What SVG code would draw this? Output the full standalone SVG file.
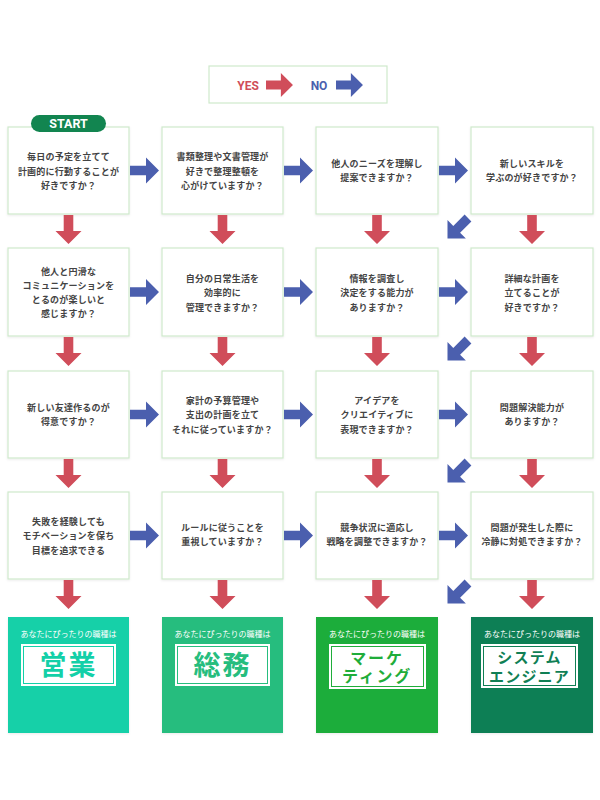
<svg xmlns="http://www.w3.org/2000/svg" xmlns:xlink="http://www.w3.org/1999/xlink" width="600" height="800" viewBox="0 0 600 800">
<defs>
<style>
.box{fill:#fff;stroke:#cfe9cc;stroke-width:1.2}
.q{font-family:"Noto Sans CJK JP","Noto Sans",sans-serif;font-size:9px;font-weight:bold;fill:#444;text-anchor:middle;letter-spacing:0.2px}
.yes{fill:#d04d5a}
.no{fill:#4b5fae}
.lbl{font-family:"Noto Sans CJK JP","Noto Sans",sans-serif;font-size:8px;fill:#fff;text-anchor:middle}
.inner{fill:#fff}
.job{font-family:"Noto Sans CJK JP","Noto Sans",sans-serif;font-weight:bold;text-anchor:middle}
</style>
<path id="arr" d="M0,-4.8 H16 V-13 L29,0 L16,13 V4.8 H0 Z"/>
<filter id="sh" x="-10%" y="-10%" width="120%" height="120%"><feDropShadow dx="0" dy="1" stdDeviation="1" flood-color="#000" flood-opacity="0.08"/></filter>
</defs>
<rect width="600" height="800" fill="#fff"/>

<g id="legend">
<rect x="209" y="66" width="178" height="37" class="box"/>
<text x="248" y="89.5" font-family="Roboto,'Noto Sans',sans-serif" font-weight="bold" font-size="12" text-anchor="middle" class="yes">YES</text>
<use xlink:href="#arr" class="yes" transform="translate(266,85) scale(0.93)"/>
<text x="319" y="89.5" font-family="Roboto,'Noto Sans',sans-serif" font-weight="bold" font-size="12" text-anchor="middle" class="no">NO</text>
<use xlink:href="#arr" class="no" transform="translate(336,85) scale(0.93)"/>
</g>

<g id="q1">
<rect x="8" y="127" width="121" height="87" class="box" filter="url(#sh)"/>
<text class="q"><tspan x="68.5" y="160">毎日の予定を立てて</tspan><tspan x="68.5" y="174.5">計画的に行動することが</tspan><tspan x="68.5" y="189">好きですか？</tspan></text>
</g>
<g id="start">
<rect x="31" y="115" width="75" height="17" rx="8.5" fill="#128550"/>
<text x="68.5" y="128" font-family="Roboto,'Noto Sans',sans-serif" font-weight="bold" font-size="12.5" fill="#fff" text-anchor="middle">START</text>
</g>
<g id="q2">
<rect x="162" y="127" width="121" height="87" class="box" filter="url(#sh)"/>
<text class="q"><tspan x="222.5" y="160">書類整理や文書管理が</tspan><tspan x="222.5" y="174.5">好きで整理整頓を</tspan><tspan x="222.5" y="189">心がけていますか？</tspan></text>
</g>
<g id="q3">
<rect x="316" y="127" width="122" height="87" class="box" filter="url(#sh)"/>
<text class="q"><tspan x="377" y="166.5">他人のニーズを理解し</tspan><tspan x="377" y="180.5">提案できますか？</tspan></text>
</g>
<g id="q4">
<rect x="471" y="127" width="122" height="87" class="box" filter="url(#sh)"/>
<text class="q"><tspan x="532" y="166.5">新しいスキルを</tspan><tspan x="532" y="180.5">学ぶのが好きですか？</tspan></text>
</g>

<g id="q5">
<rect x="8" y="248" width="121" height="88" class="box" filter="url(#sh)"/>
<text class="q"><tspan x="68.5" y="275">他人と円滑な</tspan><tspan x="68.5" y="289">コミュニケーションを</tspan><tspan x="68.5" y="303">とるのが楽しいと</tspan><tspan x="68.5" y="317">感じますか？</tspan></text>
</g>
<g id="q6">
<rect x="162" y="248" width="121" height="88" class="box" filter="url(#sh)"/>
<text class="q"><tspan x="222.5" y="281.5">自分の日常生活を</tspan><tspan x="222.5" y="296">効率的に</tspan><tspan x="222.5" y="310.5">管理できますか？</tspan></text>
</g>
<g id="q7">
<rect x="316" y="248" width="122" height="88" class="box" filter="url(#sh)"/>
<text class="q"><tspan x="377" y="281.5">情報を調査し</tspan><tspan x="377" y="296">決定をする能力が</tspan><tspan x="377" y="310.5">ありますか？</tspan></text>
</g>
<g id="q8">
<rect x="471" y="248" width="122" height="88" class="box" filter="url(#sh)"/>
<text class="q"><tspan x="532" y="281.5">詳細な計画を</tspan><tspan x="532" y="296">立てることが</tspan><tspan x="532" y="310.5">好きですか？</tspan></text>
</g>

<g id="q9">
<rect x="8" y="371" width="121" height="87" class="box" filter="url(#sh)"/>
<text class="q"><tspan x="68.5" y="410.5">新しい友達作るのが</tspan><tspan x="68.5" y="424.5">得意ですか？</tspan></text>
</g>
<g id="q10">
<rect x="162" y="371" width="121" height="87" class="box" filter="url(#sh)"/>
<text class="q"><tspan x="222.5" y="403.5">家計の予算管理や</tspan><tspan x="222.5" y="418">支出の計画を立て</tspan><tspan x="222.5" y="432.5">それに従っていますか？</tspan></text>
</g>
<g id="q11">
<rect x="316" y="371" width="122" height="87" class="box" filter="url(#sh)"/>
<text class="q"><tspan x="377" y="403.5">アイデアを</tspan><tspan x="377" y="418">クリエイティブに</tspan><tspan x="377" y="432.5">表現できますか？</tspan></text>
</g>
<g id="q12">
<rect x="471" y="371" width="122" height="87" class="box" filter="url(#sh)"/>
<text class="q"><tspan x="532" y="410.5">問題解決能力が</tspan><tspan x="532" y="424.5">ありますか？</tspan></text>
</g>

<g id="q13">
<rect x="8" y="492" width="121" height="87" class="box" filter="url(#sh)"/>
<text class="q"><tspan x="68.5" y="524.5">失敗を経験しても</tspan><tspan x="68.5" y="539">モチベーションを保ち</tspan><tspan x="68.5" y="553.5">目標を追求できる</tspan></text>
</g>
<g id="q14">
<rect x="162" y="492" width="121" height="87" class="box" filter="url(#sh)"/>
<text class="q"><tspan x="222.5" y="531">ルールに従うことを</tspan><tspan x="222.5" y="545">重視していますか？</tspan></text>
</g>
<g id="q15">
<rect x="316" y="492" width="122" height="87" class="box" filter="url(#sh)"/>
<text class="q"><tspan x="377" y="531">競争状況に適応し</tspan><tspan x="377" y="545">戦略を調整できますか？</tspan></text>
</g>
<g id="q16">
<rect x="471" y="492" width="122" height="87" class="box" filter="url(#sh)"/>
<text class="q"><tspan x="532" y="531">問題が発生した際に</tspan><tspan x="532" y="545">冷静に対処できますか？</tspan></text>
</g>

<g id="r1">
<rect x="8" y="617" width="121" height="116" fill="#13d0a8" filter="url(#sh)"/>
<text class="lbl" x="68.5" y="637">あなたにぴったりの職種は</text>
<rect x="21" y="644" width="95" height="42" class="inner"/>
<rect x="23.5" y="646.5" width="90" height="37" fill="none" stroke="#13d0a8" stroke-width="1"/>
<text class="job" x="68.5" y="675" font-size="27" fill="#13d0a8" letter-spacing="2">営業</text>
</g>
<g id="r2">
<rect x="162" y="617" width="121" height="116" fill="#26bd7e" filter="url(#sh)"/>
<text class="lbl" x="222.5" y="637">あなたにぴったりの職種は</text>
<rect x="175" y="644" width="95" height="42" class="inner"/>
<rect x="177.5" y="646.5" width="90" height="37" fill="none" stroke="#26bd7e" stroke-width="1"/>
<text class="job" x="222.5" y="675" font-size="27" fill="#26bd7e" letter-spacing="2">総務</text>
</g>
<g id="r3">
<rect x="316" y="617" width="122" height="116" fill="#1fad3a" filter="url(#sh)"/>
<text class="lbl" x="377" y="637">あなたにぴったりの職種は</text>
<rect x="329" y="644" width="97" height="45" class="inner"/>
<rect x="331.5" y="646.5" width="92" height="40" fill="none" stroke="#1fad3a" stroke-width="1"/>
<text class="job" font-size="16" fill="#1fad3a" letter-spacing="1.8"><tspan x="377" y="663.5">マーケ</tspan><tspan x="377" y="682">ティング</tspan></text>
</g>
<g id="r4">
<rect x="471" y="617" width="122" height="116" fill="#107f55" filter="url(#sh)"/>
<text class="lbl" x="532" y="637">あなたにぴったりの職種は</text>
<rect x="481" y="644" width="97" height="44" class="inner"/>
<rect x="483.5" y="646.5" width="92" height="39" fill="none" stroke="#107f55" stroke-width="1"/>
<text class="job" font-size="15" fill="#107f55" letter-spacing="1.2"><tspan x="529.5" y="663">システム</tspan><tspan x="529.5" y="681.5">エンジニア</tspan></text>
</g>

<g id="connectors">
<use xlink:href="#arr" class="no" transform="translate(130,170.5)"/>
<use xlink:href="#arr" class="no" transform="translate(284,170.5)"/>
<use xlink:href="#arr" class="no" transform="translate(439,170.5)"/>
<use xlink:href="#arr" class="no" transform="translate(130,292)"/>
<use xlink:href="#arr" class="no" transform="translate(284,292)"/>
<use xlink:href="#arr" class="no" transform="translate(439,292)"/>
<use xlink:href="#arr" class="no" transform="translate(130,414.5)"/>
<use xlink:href="#arr" class="no" transform="translate(284,414.5)"/>
<use xlink:href="#arr" class="no" transform="translate(439,414.5)"/>
<use xlink:href="#arr" class="no" transform="translate(130,535.5)"/>
<use xlink:href="#arr" class="no" transform="translate(284,535.5)"/>
<use xlink:href="#arr" class="no" transform="translate(439,535.5)"/>
<use xlink:href="#arr" class="no" transform="translate(468,218) rotate(135)"/>
<use xlink:href="#arr" class="no" transform="translate(468,340) rotate(135)"/>
<use xlink:href="#arr" class="no" transform="translate(468,462) rotate(135)"/>
<use xlink:href="#arr" class="no" transform="translate(468,583) rotate(135)"/>
<use xlink:href="#arr" class="yes" transform="translate(68.5,215) rotate(90)"/>
<use xlink:href="#arr" class="yes" transform="translate(222.5,215) rotate(90)"/>
<use xlink:href="#arr" class="yes" transform="translate(377,215) rotate(90)"/>
<use xlink:href="#arr" class="yes" transform="translate(532,215) rotate(90)"/>
<use xlink:href="#arr" class="yes" transform="translate(68.5,337) rotate(90)"/>
<use xlink:href="#arr" class="yes" transform="translate(222.5,337) rotate(90)"/>
<use xlink:href="#arr" class="yes" transform="translate(377,337) rotate(90)"/>
<use xlink:href="#arr" class="yes" transform="translate(532,337) rotate(90)"/>
<use xlink:href="#arr" class="yes" transform="translate(68.5,459) rotate(90)"/>
<use xlink:href="#arr" class="yes" transform="translate(222.5,459) rotate(90)"/>
<use xlink:href="#arr" class="yes" transform="translate(377,459) rotate(90)"/>
<use xlink:href="#arr" class="yes" transform="translate(532,459) rotate(90)"/>
<use xlink:href="#arr" class="yes" transform="translate(68.5,580) rotate(90)"/>
<use xlink:href="#arr" class="yes" transform="translate(222.5,580) rotate(90)"/>
<use xlink:href="#arr" class="yes" transform="translate(377,580) rotate(90)"/>
<use xlink:href="#arr" class="yes" transform="translate(532,580) rotate(90)"/>
</g>
</svg>
